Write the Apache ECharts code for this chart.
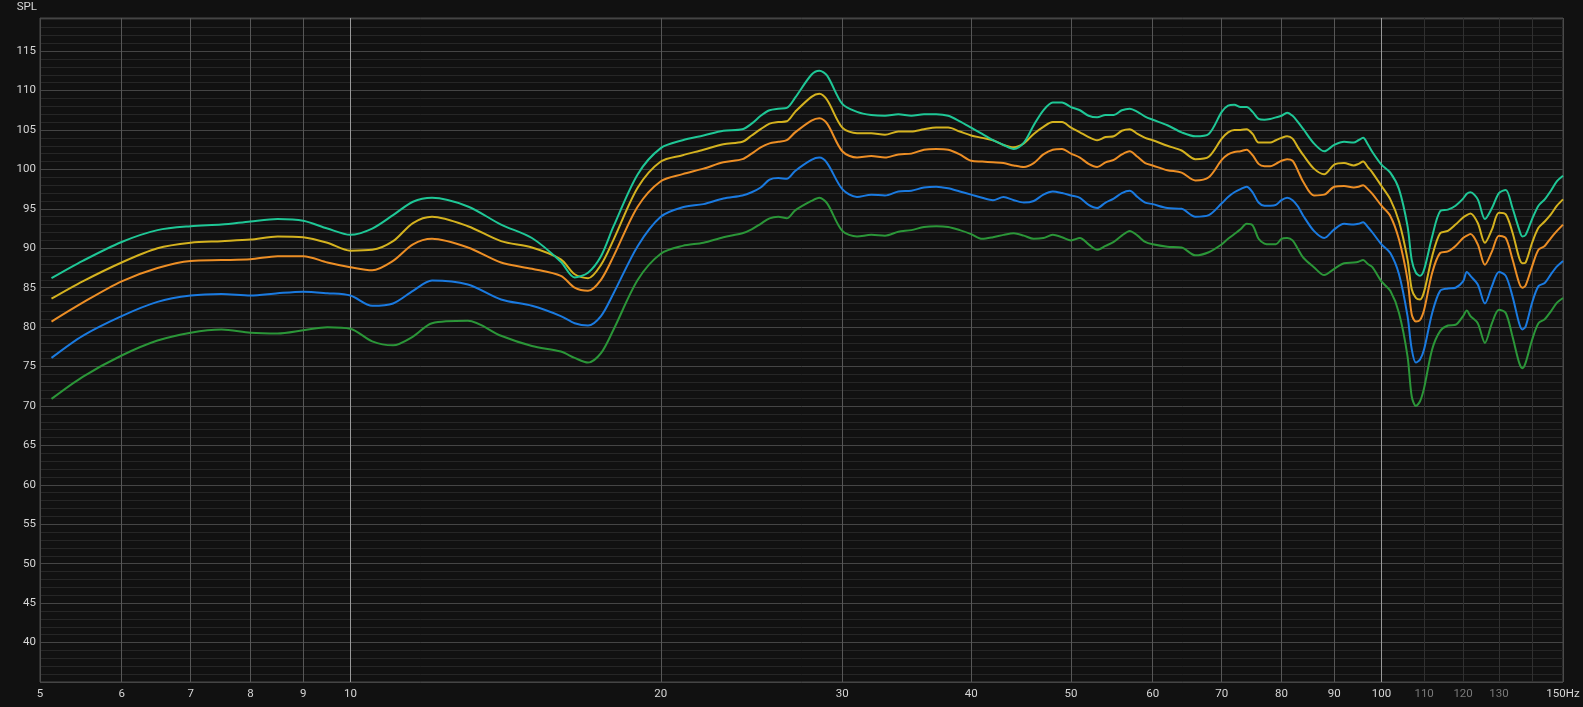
<!DOCTYPE html>
<html>
<head>
    <meta charset="UTF-8">
    <title>SPL</title>
    <script src="https://cdn.jsdelivr.net/npm/echarts@6.0.0/dist/echarts.min.js"></script>
    <style>
        html, body {
            margin: 0;
            padding: 0;
            background-color: #111111;
        }
        #chartContainer {
            width: 1583px;
            height: 707px;
        }
    </style>
</head>
<body>
    <div id="chartContainer"></div>

    <script>
        // frequency points (Hz)
        const freq = [5.13, 5.5, 6, 6.5, 7, 7.5, 8, 8.5, 9, 9.5, 10,
            10.5, 11, 11.5, 12, 13, 14, 15, 16, 16.5, 17, 17.5, 18, 19, 20,
            21, 22, 23, 24, 24.5, 25, 25.5, 26, 26.5, 27, 28, 28.5, 29, 30, 31, 32, 33, 34, 35, 36, 37, 38, 39, 40, 41,
            42, 43, 44, 45, 46, 47, 48, 49, 50, 51, 52, 53, 54, 55, 56, 57, 58, 59, 60, 62, 64, 66, 68,
            70, 71, 72, 73, 74, 75, 76, 77, 78, 79, 80, 81, 82, 83, 84, 86, 88, 90, 92, 94, 95, 96, 97, 98,
            100, 102, 104, 106, 107, 108, 109, 110, 112, 114, 116, 118, 120, 121, 122, 124, 126, 128, 130,
            132, 134, 136, 137, 138, 140, 142, 144, 146, 148, 150];

        const splTeal = [86.2, 88.4, 90.8, 92.3, 92.8, 93.0, 93.4, 93.7, 93.5, 92.5, 91.7,
            92.5, 94.2, 95.9, 96.4, 95.3, 93.0, 91.3, 88.3, 86.3, 86.9, 89.0, 92.8, 99.4, 102.7,
            103.7, 104.3, 104.9, 105.1, 105.8, 106.8, 107.5, 107.7, 107.8, 109.1, 112.0, 112.5, 111.9, 108.3, 107.3, 106.9, 106.8, 107.0, 106.8, 107.0, 107.0, 106.8, 106.1, 105.3, 104.5,
            103.7, 103.1, 102.6, 103.4, 105.6, 107.5, 108.5, 108.5, 107.9, 107.5, 106.8, 106.6, 106.9, 106.9, 107.5, 107.7, 107.3, 106.7, 106.3, 105.6, 104.7, 104.2, 104.5,
            107.3, 108.1, 108.2, 107.9, 107.9, 107.3, 106.4, 106.3, 106.4, 106.6, 106.8, 107.2, 106.8, 106.0, 105.1, 103.3, 102.3, 103.1, 103.5, 103.4, 103.7, 104.0, 103.2, 102.2,
            100.6, 99.6, 97.5, 92.8, 88.5, 86.9, 86.5, 87.3, 91.5, 94.7, 94.9, 95.4, 96.3, 96.9, 97.1, 96.2, 93.7, 95.1, 97.0,
            97.4, 95.1, 92.4, 91.5, 91.7, 93.7, 95.4, 96.2, 97.3, 98.5, 99.2];

        const splYellow = [83.6, 85.8, 88.2, 90.0, 90.7, 90.9, 91.1, 91.5, 91.4, 90.7, 89.7,
            89.8, 90.9, 93.2, 94.0, 92.8, 90.9, 90.1, 88.6, 86.7, 86.2, 87.9, 91.1, 97.7, 101.0,
            101.8, 102.5, 103.2, 103.5, 104.3, 105.1, 105.8, 106.0, 106.1, 107.3, 109.2, 109.6, 108.8, 105.3, 104.6, 104.6, 104.4, 104.8, 104.8, 105.1, 105.3, 105.3, 104.8, 104.3, 104.0,
            103.7, 103.1, 102.8, 103.3, 104.5, 105.4, 106.0, 106.0, 105.3, 104.7, 104.1, 103.7, 104.1, 104.2, 104.9, 105.1, 104.5, 104.0, 103.7, 103.0, 102.4, 101.3, 101.6,
            103.9, 104.7, 105.0, 105.0, 105.1, 104.5, 103.4, 103.4, 103.4, 103.7, 104.0, 104.2, 103.9, 102.8, 101.8, 100.1, 99.4, 100.6, 100.8, 100.5, 100.7, 101.0, 100.3, 99.6,
            97.9, 96.2, 93.4, 88.6, 84.8, 83.7, 83.5, 84.5, 89.0, 91.9, 92.2, 93.0, 93.9, 94.2, 94.4, 93.2, 90.7, 92.4, 94.5,
            94.3, 92.0, 88.8, 88.1, 88.2, 90.7, 92.6, 93.4, 94.3, 95.4, 96.2];

        const splOrange = [80.7, 83.1, 85.8, 87.5, 88.4, 88.5, 88.6, 89.0, 89.0, 88.2, 87.6,
            87.2, 88.4, 90.5, 91.2, 90.1, 88.2, 87.4, 86.5, 85.0, 84.6, 86.0, 89.0, 95.3, 98.5,
            99.4, 100.1, 100.9, 101.3, 102.0, 102.8, 103.3, 103.5, 103.7, 104.7, 106.2, 106.5, 105.8, 102.3, 101.5, 101.7, 101.5, 101.9, 102.0, 102.5, 102.6, 102.5, 101.9, 101.1, 101.0,
            100.9, 100.8, 100.5, 100.3, 100.8, 101.9, 102.5, 102.6, 102.0, 101.5, 100.7, 100.3, 100.9, 101.2, 101.9, 102.3, 101.6, 100.8, 100.5, 99.9, 99.6, 98.6, 99.0,
            101.2, 101.9, 102.2, 102.3, 102.5, 101.8, 100.7, 100.4, 100.4, 100.7, 101.1, 101.3, 101.1, 99.8, 98.4, 96.7, 96.8, 97.8, 97.9, 97.7, 97.8, 98.0, 97.5, 96.9,
            95.4, 94.1, 91.1, 86.0, 81.6, 80.7, 80.9, 82.2, 86.9, 89.4, 89.6, 90.3, 91.3, 91.6, 91.8, 90.5, 87.9, 89.6, 91.6,
            91.3, 88.6, 85.6, 85.0, 85.3, 87.7, 89.8, 90.3, 91.3, 92.2, 93.0];

        const splBlue = [76.1, 78.9, 81.4, 83.2, 84.0, 84.2, 84.0, 84.3, 84.5, 84.3, 84.0,
            82.7, 83.0, 84.6, 85.9, 85.4, 83.5, 82.7, 81.4, 80.5, 80.2, 81.4, 84.3, 90.3, 94.0,
            95.2, 95.6, 96.3, 96.7, 97.1, 97.7, 98.7, 98.9, 98.8, 99.8, 101.2, 101.5, 100.8, 97.5, 96.5, 96.8, 96.7, 97.2, 97.3, 97.7, 97.8, 97.6, 97.2, 96.8, 96.4,
            96.1, 96.5, 96.1, 95.8, 96.0, 96.8, 97.2, 97.0, 96.7, 96.4, 95.5, 95.1, 95.8, 96.3, 97.0, 97.3, 96.5, 95.8, 95.6, 95.1, 95.0, 94.0, 94.2,
            95.7, 96.5, 97.1, 97.5, 97.8, 97.1, 95.8, 95.4, 95.4, 95.5, 96.1, 96.4, 96.1, 95.3, 94.1, 92.2, 91.3, 92.4, 93.1, 93.0, 93.1, 93.3, 92.7, 92.0,
            90.5, 89.4, 86.7, 81.4, 77.2, 75.5, 75.9, 77.2, 81.8, 84.6, 84.9, 85.0, 85.8, 87.0, 86.5, 85.4, 83.0, 85.2, 87.0,
            86.5, 83.9, 80.5, 79.7, 80.1, 83.1, 85.2, 85.6, 86.7, 87.7, 88.4];

        const splGreen = [70.9, 73.7, 76.4, 78.3, 79.3, 79.7, 79.3, 79.2, 79.6, 80.0, 79.8,
            78.2, 77.7, 78.8, 80.5, 80.8, 78.9, 77.6, 76.9, 76.1, 75.5, 76.7, 79.7, 86.0, 89.3,
            90.3, 90.7, 91.4, 91.9, 92.4, 93.1, 93.8, 94.0, 93.8, 94.8, 96.0, 96.4, 95.7, 92.2, 91.5, 91.7, 91.6, 92.1, 92.3, 92.7, 92.8, 92.7, 92.3, 91.8, 91.2,
            91.4, 91.7, 91.9, 91.6, 91.2, 91.3, 91.7, 91.4, 91.0, 91.3, 90.5, 89.8, 90.3, 90.8, 91.6, 92.2, 91.6, 90.8, 90.5, 90.2, 90.1, 89.1, 89.5,
            90.5, 91.2, 91.8, 92.4, 93.1, 92.9, 91.2, 90.6, 90.5, 90.5, 91.2, 91.3, 91.0, 89.9, 88.8, 87.6, 86.6, 87.4, 88.1, 88.2, 88.3, 88.5, 88.0, 87.6,
            85.8, 84.6, 81.8, 76.3, 71.2, 70.0, 70.6, 72.3, 77.2, 79.5, 80.2, 80.3, 81.4, 82.1, 81.4, 80.5, 78.0, 80.5, 82.2,
            81.8, 78.8, 75.5, 74.8, 75.5, 78.4, 80.5, 81.0, 82.0, 83.1, 83.7];

        // x ticks and the colour of each vertical grid line
        const xTicks = [5, 6, 7, 8, 9, 10, 20, 30, 40, 50, 60, 70, 80, 90, 100, 110, 120, 130, 140, 150];
        const xLabels = [5, 6, 7, 8, 9, 10, 20, 30, 40, 50, 60, 70, 80, 90, 100, 110, 120, 130, 150];
        const xLineColors = ['#4a4a4a', '#575757', '#575757', '#575757', '#575757', '#9a9a9a',
            '#575757', '#575757', '#575757', '#575757', '#575757', '#575757', '#575757', '#575757',
            '#9a9a9a', '#303030', '#303030', '#303030', '#303030', '#4a4a4a'];
        const dimLabels = [110, 120, 130];

        const seriesList = [
            { name: 'green', color: '#2b9638', values: splGreen },
            { name: 'blue', color: '#1a7ae0', values: splBlue },
            { name: 'orange', color: '#ec8e25', values: splOrange },
            { name: 'yellow', color: '#d4b21f', values: splYellow },
            { name: 'teal', color: '#1fc796', values: splTeal }
        ];

        let myChart = null;

        document.addEventListener('DOMContentLoaded', function() {
            initChart();
        });

        function initChart() {
            myChart = echarts.init(document.getElementById('chartContainer'));

            const option = {
                backgroundColor: '#111111',
                animation: false,
                grid: {
                    left: 40,
                    right: 20,
                    top: 18,
                    bottom: 25,
                    show: true,
                    borderColor: '#4a4a4a',
                    borderWidth: 1
                },
                xAxis: {
                    type: 'log',
                    logBase: 10,
                    min: 5,
                    max: 150,
                    axisLine: { show: false },
                    axisTick: { show: false, customValues: xTicks },
                    axisLabel: {
                        customValues: xLabels,
                        margin: 6,
                        fontFamily: 'Roboto',
                        fontSize: 11.5,
                        color: function(value) {
                            return dimLabels.indexOf(Number(value)) >= 0 ? '#7a7a7a' : '#d6d6d6';
                        },
                        formatter: function(value) {
                            return value == 150 ? '150Hz' : String(value);
                        }
                    },
                    splitLine: {
                        show: true,
                        lineStyle: { color: xLineColors, width: 1 }
                    }
                },
                yAxis: {
                    type: 'value',
                    min: 35,
                    max: 119.2,
                    interval: 1,
                    name: 'SPL',
                    nameLocation: 'end',
                    nameGap: 5,
                    nameTextStyle: {
                        color: '#d6d6d6',
                        fontFamily: 'Roboto',
                        fontSize: 11.5,
                        align: 'right',
                        padding: [0, 3, 0, 0]
                    },
                    axisLine: { show: false },
                    axisTick: { show: false },
                    axisLabel: {
                        margin: 4,
                        fontFamily: 'Roboto',
                        fontSize: 11.5,
                        color: '#d6d6d6',
                        formatter: function(value) {
                            return (value % 5 === 0 && value > 35) ? String(value) : '';
                        }
                    },
                    splitLine: {
                        show: true,
                        lineStyle: {
                            color: ['#454545', '#262626', '#262626', '#262626', '#262626'],
                            width: 1
                        }
                    }
                },
                series: seriesList.map(s => ({
                    name: s.name,
                    type: 'line',
                    data: freq.map((f, i) => [f, s.values[i]]),
                    smooth: 0.3,
                    symbol: 'none',
                    z: 3,
                    lineStyle: { color: s.color, width: 2 },
                    itemStyle: { color: s.color }
                }))
            };

            myChart.setOption(option);
        }
    </script>
</body>
</html>
